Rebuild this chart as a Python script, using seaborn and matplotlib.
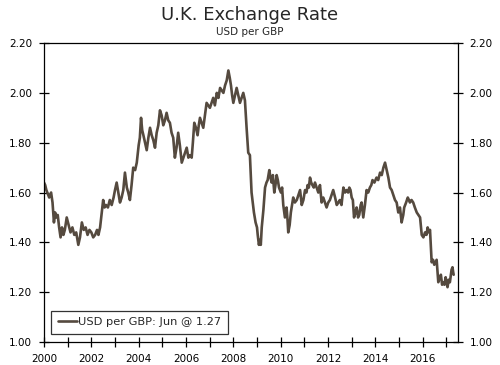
import numpy as np
import pandas as pd
import matplotlib
matplotlib.use("Agg")
import matplotlib.pyplot as plt
import seaborn as sns
from matplotlib.ticker import MultipleLocator, FormatStrFormatter

sns.set_style("ticks")
plt.rcParams['font.family'] = ['DejaVu Sans']

# USD per GBP (decimal year, rate)
years = [
    2000.00, 2000.05, 2000.10, 2000.14, 2000.22, 2000.30, 2000.36, 2000.42, 2000.47, 2000.52,
    2000.58, 2000.64, 2000.70, 2000.76, 2000.82, 2000.88, 2000.96, 2001.04, 2001.12, 2001.20,
    2001.28, 2001.36, 2001.45, 2001.52, 2001.60, 2001.68, 2001.76, 2001.84, 2001.92, 2002.00,
    2002.08, 2002.16, 2002.24, 2002.30, 2002.37, 2002.44, 2002.50, 2002.56, 2002.62, 2002.70,
    2002.78, 2002.86, 2002.94, 2003.00, 2003.07, 2003.14, 2003.21, 2003.28, 2003.35, 2003.42,
    2003.50, 2003.56, 2003.63, 2003.70, 2003.77, 2003.85, 2003.92, 2004.00, 2004.05, 2004.10,
    2004.15, 2004.20, 2004.27, 2004.34, 2004.41, 2004.48, 2004.55, 2004.62, 2004.69, 2004.76,
    2004.83, 2004.90, 2004.97, 2005.04, 2005.11, 2005.18, 2005.25, 2005.32, 2005.39, 2005.46,
    2005.53, 2005.60, 2005.67, 2005.74, 2005.82, 2005.89, 2005.96, 2006.03, 2006.10, 2006.17,
    2006.24, 2006.29, 2006.35, 2006.42, 2006.49, 2006.54, 2006.59, 2006.66, 2006.73, 2006.80,
    2006.87, 2006.94, 2007.01, 2007.08, 2007.15, 2007.22, 2007.30, 2007.37, 2007.44, 2007.51,
    2007.58, 2007.65, 2007.72, 2007.79, 2007.85, 2007.90, 2007.95, 2008.00, 2008.07, 2008.14,
    2008.21, 2008.28, 2008.35, 2008.42, 2008.49, 2008.56, 2008.63, 2008.70, 2008.77, 2008.82,
    2008.87, 2008.94, 2009.00, 2009.03, 2009.08, 2009.13, 2009.16, 2009.20, 2009.27, 2009.34,
    2009.40, 2009.45, 2009.52, 2009.57, 2009.62, 2009.67, 2009.73, 2009.78, 2009.83, 2009.88,
    2009.93, 2010.01, 2010.06, 2010.11, 2010.18, 2010.25, 2010.29, 2010.32, 2010.38, 2010.43,
    2010.48, 2010.53, 2010.60, 2010.68, 2010.75, 2010.82, 2010.89, 2010.96, 2011.03, 2011.09,
    2011.14, 2011.19, 2011.24, 2011.29, 2011.34, 2011.40, 2011.45, 2011.52, 2011.59, 2011.66,
    2011.73, 2011.80, 2011.87, 2011.94, 2012.01, 2012.08, 2012.15, 2012.22, 2012.30, 2012.37,
    2012.44, 2012.50, 2012.57, 2012.65, 2012.72, 2012.79, 2012.85, 2012.90, 2012.95, 2013.00,
    2013.05, 2013.10, 2013.16, 2013.21, 2013.27, 2013.32, 2013.38, 2013.42, 2013.49, 2013.56,
    2013.63, 2013.70, 2013.77, 2013.83, 2013.88, 2013.96, 2014.05, 2014.12, 2014.20, 2014.27,
    2014.34, 2014.41, 2014.48, 2014.55, 2014.62, 2014.69, 2014.76, 2014.83, 2014.90, 2014.97,
    2015.04, 2015.11, 2015.18, 2015.22, 2015.30, 2015.37, 2015.42, 2015.46, 2015.53, 2015.60,
    2015.67, 2015.75, 2015.82, 2015.89, 2015.96, 2016.03, 2016.10, 2016.16, 2016.21, 2016.26,
    2016.31, 2016.35, 2016.38, 2016.44, 2016.49, 2016.55, 2016.59, 2016.66, 2016.72, 2016.77,
    2016.82, 2016.87, 2016.92, 2016.97, 2017.01, 2017.05, 2017.10, 2017.15, 2017.22, 2017.26,
    2017.29, 2017.31,
]
usd_per_gbp = [
    1.64, 1.63, 1.61, 1.60, 1.58, 1.60, 1.56, 1.48, 1.52, 1.50,
    1.51, 1.46, 1.42, 1.46, 1.43, 1.45, 1.50, 1.47, 1.44, 1.46,
    1.43, 1.44, 1.39, 1.42, 1.48, 1.45, 1.46, 1.43, 1.45, 1.44,
    1.42, 1.43, 1.45, 1.43, 1.46, 1.52, 1.57, 1.54, 1.55, 1.54,
    1.57, 1.55, 1.58, 1.61, 1.64, 1.60, 1.56, 1.58, 1.61, 1.68,
    1.62, 1.60, 1.57, 1.63, 1.70, 1.69, 1.72, 1.79, 1.82, 1.90,
    1.85, 1.83, 1.80, 1.77, 1.82, 1.86, 1.83, 1.81, 1.78, 1.84,
    1.87, 1.93, 1.91, 1.87, 1.89, 1.92, 1.89, 1.88, 1.84, 1.82,
    1.74, 1.78, 1.84, 1.79, 1.72, 1.74, 1.76, 1.78, 1.74, 1.75,
    1.74, 1.80, 1.88, 1.86, 1.83, 1.87, 1.90, 1.88, 1.86, 1.91,
    1.96, 1.95, 1.94, 1.96, 1.98, 1.95, 2.00, 1.98, 2.02, 2.01,
    2.00, 2.03, 2.05, 2.09, 2.06, 2.03, 1.99, 1.96, 1.99, 2.02,
    1.99, 1.96, 1.98, 2.00, 1.97, 1.86, 1.76, 1.75, 1.60, 1.56,
    1.52, 1.48, 1.46, 1.43, 1.39, 1.41, 1.39, 1.46, 1.53, 1.62,
    1.64, 1.65, 1.69, 1.66, 1.64, 1.67, 1.60, 1.63, 1.67, 1.65,
    1.62, 1.60, 1.62, 1.55, 1.50, 1.54, 1.49, 1.44, 1.47, 1.52,
    1.55, 1.58, 1.56, 1.57, 1.59, 1.61, 1.55, 1.57, 1.61, 1.60,
    1.63, 1.62, 1.66, 1.64, 1.63, 1.62, 1.64, 1.62, 1.60, 1.63,
    1.56, 1.58, 1.56, 1.54, 1.56, 1.57, 1.59, 1.61, 1.58, 1.55,
    1.56, 1.57, 1.55, 1.62, 1.60, 1.61, 1.60, 1.62, 1.61, 1.58,
    1.57, 1.50, 1.52, 1.54, 1.50, 1.51, 1.55, 1.56, 1.50, 1.55,
    1.61, 1.60, 1.62, 1.63, 1.65, 1.64, 1.66, 1.65, 1.68, 1.67,
    1.70, 1.72, 1.69, 1.66, 1.62, 1.61, 1.59, 1.57, 1.56, 1.52,
    1.54, 1.48, 1.51, 1.54, 1.56, 1.58, 1.57, 1.56, 1.57, 1.56,
    1.54, 1.52, 1.51, 1.50, 1.43, 1.42, 1.44, 1.43, 1.46, 1.44,
    1.45, 1.38, 1.32, 1.33, 1.31, 1.32, 1.33, 1.24, 1.26, 1.27,
    1.23, 1.24, 1.23, 1.26, 1.24, 1.22, 1.25, 1.24, 1.29, 1.30,
    1.28, 1.27,
]
series_label = "USD per GBP: Jun @ 1.27"

df = pd.DataFrame({"year": years, "rate": usd_per_gbp})

fig = plt.figure(figsize=(5, 3.65), dpi=100)
ax = fig.add_axes([0.088, 0.063, 0.8274, 0.819])

sns.lineplot(data=df, x="year", y="rate", ax=ax, color="#554a3f",
             linewidth=1.9, label=series_label)

ax.set_xlim(2000, 2017.48)
ax.set_ylim(1.0, 2.2)
ax.xaxis.set_major_locator(MultipleLocator(2))
ax.xaxis.set_minor_locator(MultipleLocator(1))
ax.yaxis.set_major_locator(MultipleLocator(0.2))
ax.yaxis.set_major_formatter(FormatStrFormatter("%.2f"))
ax.set_xlabel("")
ax.set_ylabel("")

ax.tick_params(axis="both", which="both", direction="inout", length=7,
               width=0.9, color="black", labelsize=7.5, labelcolor="black")
ax.tick_params(axis="y", right=True, labelright=True, pad=5)
ax.tick_params(axis="x", pad=5)

for side in ["left", "right", "top", "bottom"]:
    ax.spines[side].set_visible(True)
    ax.spines[side].set_color("black")
    ax.spines[side].set_linewidth(0.9)

leg = ax.legend(loc="lower left", bbox_to_anchor=(0.018, 0.026), fontsize=8.2,
                frameon=True, fancybox=False, handlelength=1.6, handletextpad=0.1,
                borderpad=0.6, borderaxespad=0)
leg.get_frame().set_edgecolor("black")
leg.get_frame().set_linewidth(0.9)

fig.text(0.5, 0.935, "U.K. Exchange Rate", ha="center", va="bottom", fontsize=13)
fig.text(0.5, 0.925, "USD per GBP", ha="center", va="top", fontsize=7.5)

fig.savefig("out.png", dpi=100)
